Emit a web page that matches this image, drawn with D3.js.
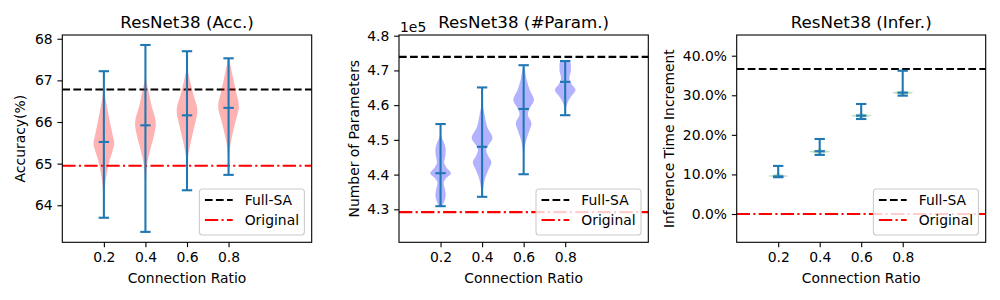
<!DOCTYPE html>
<html>
  <head>
    <meta charset="utf-8">
    <title></title>
    <script src="https://d3js.org/d3.v7.min.js" charset="utf-8"></script>
    <style>
      body { margin: 0; background: #fff; }
      text { font-family: "DejaVu Sans", sans-serif; fill: #000; }
    </style>
  </head>
  <body>
  <div id="chart"></div>
  <script>
    /* ------------------
      data
    ------------------ */

    var ratios = [0.2, 0.4, 0.6, 0.8];

    // accuracy (%)
    var accMax  = [67.22, 67.85, 67.70, 67.53];
    var accMin  = [63.70, 63.36, 64.36, 64.73];
    var accMean = [65.52, 65.92, 66.16, 66.34];
    var accFull = 66.78, accOrig = 64.95;
    // violin outline: [value, relative half width]
    var accViolins = [
      [[63.70,0],[64.24,0.05],[64.72,0.25],[65.08,0.55],[65.32,0.85],[65.49,1],[65.68,0.85],[66.04,0.55],[66.40,0.28],[66.69,0.08],[67.0,0.01],[67.22,0]],
      [[63.36,0],[64.20,0.01],[64.60,0.05],[64.96,0.15],[65.32,0.45],[65.68,0.83],[65.97,1],[66.40,0.58],[66.76,0.28],[67.07,0.05],[67.85,0]],
      [[64.36,0],[64.96,0.03],[65.20,0.12],[65.56,0.4],[65.92,0.74],[66.28,1],[66.64,0.63],[67.00,0.28],[67.29,0.05],[67.70,0]],
      [[64.73,0],[65.08,0.03],[65.32,0.1],[65.68,0.35],[66.04,0.7],[66.38,1],[66.76,0.68],[67.12,0.38],[67.48,0.08],[67.53,0.04]]
    ];

    // number of parameters
    var parMax  = [4.5455, 4.651, 4.715, 4.727];
    var parMin  = [4.309, 4.336, 4.401, 4.571];
    var parMean = [4.404, 4.480, 4.589, 4.667];
    var parFull = 4.739, parOrig = 4.292;
    var parViolins = [
      [[4.309,0.15],[4.326,0.4],[4.341,0.5],[4.361,0.4],[4.376,0.3],[4.390,0.55],[4.404,1],[4.419,0.6],[4.436,0.35],[4.453,0.45],[4.471,0.5],[4.491,0.35],[4.508,0.1],[4.528,0.02],[4.5455,0]],
      [[4.336,0.02],[4.361,0.1],[4.390,0.3],[4.413,0.6],[4.436,0.9],[4.453,0.6],[4.471,0.4],[4.485,0.6],[4.505,1],[4.537,0.5],[4.571,0.25],[4.606,0.05],[4.651,0]],
      [[4.401,0],[4.456,0.05],[4.494,0.2],[4.522,0.5],[4.548,0.75],[4.574,0.4],[4.592,0.6],[4.615,1],[4.643,0.6],[4.672,0.3],[4.710,0.05],[4.715,0]],
      [[4.571,0],[4.592,0.08],[4.609,0.25],[4.626,0.6],[4.644,1],[4.661,0.6],[4.678,0.4],[4.701,0.55],[4.718,0.55],[4.727,0.4]]
    ];

    // inference time increment
    var infMax  = [0.1215, 0.1896, 0.278, 0.362];
    var infMin  = [0.0929, 0.1493, 0.240, 0.299];
    var infMean = [0.095, 0.1586, 0.2485, 0.3066];
    var infFull = 0.3664, infOrig = 0.0;
    var infViolins = [
      [[0.0929,0.5],[0.0945,0.85],[0.096,1],[0.0985,0.55],[0.1015,0.15],[0.105,0.03],[0.1215,0]],
      [[0.1493,0],[0.151,0.08],[0.1545,0.55],[0.1576,1],[0.1605,0.55],[0.164,0.08],[0.171,0.01],[0.1896,0]],
      [[0.240,0],[0.242,0.08],[0.2455,0.55],[0.2485,1],[0.2515,0.55],[0.255,0.08],[0.263,0.01],[0.278,0]],
      [[0.299,0],[0.3005,0.08],[0.3035,0.55],[0.3066,1],[0.3095,0.55],[0.313,0.08],[0.323,0.01],[0.362,0]]
    ];

    /* ------------------
      layout
    ------------------ */

    var svg = d3.select('#chart').append('svg').attr('width', 1000).attr('height', 300);

    var TOP = 35, BOTTOM = 242.3;
    var blue = '#1f77b4';

    var panels = [
      { left: 62.3, right: 311.7, domain: [63.11, 68.09], ticks: [64, 65, 66, 67, 68], fmt: d3.format('d'),
        title: 'ResNet38 (Acc.)', ylabel: 'Accuracy(%)', ylabelX: 25, fill: 'red',
        max: accMax, min: accMin, mean: accMean, full: accFull, orig: accOrig, violins: accViolins },
      { left: 399, right: 648.3, domain: [4.205, 4.802], ticks: [4.3, 4.4, 4.5, 4.6, 4.7, 4.8], fmt: d3.format('.1f'),
        title: 'ResNet38 (#Param.)', ylabel: 'Number of Parameters', ylabelX: 358.5, fill: 'blue', offset: '1e5',
        max: parMax, min: parMin, mean: parMean, full: parFull, orig: parOrig, violins: parViolins },
      { left: 736.7, right: 985.7, domain: [-0.0715, 0.4523], ticks: [0, 0.1, 0.2, 0.3, 0.4], fmt: d3.format('.1%'),
        title: 'ResNet38 (Infer.)', ylabel: 'Inference Time Increment', ylabelX: 674, fill: '#2ca02c',
        max: infMax, min: infMin, mean: infMean, full: infFull, orig: infOrig, violins: infViolins }
    ];

    panels.forEach(function(p) {
      var x = d3.scaleLinear().domain([0, 1.2]).range([p.left, p.right]);
      var y = d3.scaleLinear().domain(p.domain).range([BOTTOM, TOP]);
      var g = svg.append('g');

      // reference lines
      g.append('line').attr('x1', p.left).attr('x2', p.right)
        .attr('y1', y(p.full)).attr('y2', y(p.full))
        .attr('stroke', '#000').attr('stroke-width', 2.08).attr('stroke-dasharray', '7.7,3.33');
      g.append('line').attr('x1', p.left).attr('x2', p.right)
        .attr('y1', y(p.orig)).attr('y2', y(p.orig))
        .attr('stroke', 'red').attr('stroke-width', 2.08).attr('stroke-dasharray', '13.3,3.33,2.08,3.33');

      // violins (width 0.1 in data units)
      p.violins.forEach(function(v, i) {
        var c = ratios[i];
        var area = d3.area()
          .y(function(d) { return y(d[0]); })
          .x0(function(d) { return x(c - d[1] * 0.05); })
          .x1(function(d) { return x(c + d[1] * 0.05); })
          .curve(d3.curveMonotoneY);
        g.append('path').attr('d', area(v)).attr('fill', p.fill).attr('fill-opacity', 0.3);
      });

      // whiskers, caps and means
      ratios.forEach(function(c, i) {
        g.append('line').attr('x1', x(c)).attr('x2', x(c))
          .attr('y1', y(p.min[i])).attr('y2', y(p.max[i]))
          .attr('stroke', blue).attr('stroke-width', 2.08);
        [p.min[i], p.max[i], p.mean[i]].forEach(function(val) {
          g.append('line').attr('x1', x(c - 0.025)).attr('x2', x(c + 0.025))
            .attr('y1', y(val)).attr('y2', y(val))
            .attr('stroke', blue).attr('stroke-width', 2.08);
        });
      });

      // axes
      var yAxis = d3.axisLeft(y).tickValues(p.ticks).tickFormat(p.fmt).tickSizeOuter(0).tickSize(4.86).tickPadding(4.86);
      var xAxis = d3.axisBottom(x).tickValues(ratios).tickFormat(d3.format('.1f')).tickSizeOuter(0).tickSize(4.86).tickPadding(4.86);
      var ya = g.append('g').attr('transform', 'translate(' + p.left + ',0)').call(yAxis);
      var xa = g.append('g').attr('transform', 'translate(0,' + BOTTOM + ')').call(xAxis);
      [ya, xa].forEach(function(a) {
        a.select('.domain').remove();
        a.selectAll('line').attr('stroke', '#000').attr('stroke-width', 1.1);
        a.selectAll('text').attr('font-size', 13.9).attr('fill', '#000').style('font-family', '"DejaVu Sans", sans-serif');
      });
      g.append('rect').attr('x', p.left).attr('y', TOP)
        .attr('width', p.right - p.left).attr('height', BOTTOM - TOP)
        .attr('fill', 'none').attr('stroke', '#000').attr('stroke-width', 1.1);

      // labels
      g.append('text').attr('x', (p.left + p.right) / 2).attr('y', 27.5)
        .attr('text-anchor', 'middle').attr('font-size', 16.7).text(p.title);
      g.append('text').attr('x', (p.left + p.right) / 2).attr('y', 283)
        .attr('text-anchor', 'middle').attr('font-size', 13.9).text('Connection Ratio');
      g.append('text').attr('transform', 'translate(' + p.ylabelX + ',' + ((TOP + BOTTOM) / 2) + ') rotate(-90)')
        .attr('text-anchor', 'middle').attr('font-size', 13.9).text(p.ylabel);
      if (p.offset) {
        g.append('text').attr('x', p.left + 1).attr('y', 31.5).attr('font-size', 13.9).text(p.offset);
      }

      // legend
      var bw = 105, bh = 46;
      var bx = p.right - 7.3 - bw, by = BOTTOM - 7.3 - bh;
      var lg = g.append('g');
      lg.append('rect').attr('x', bx).attr('y', by).attr('width', bw).attr('height', bh)
        .attr('rx', 3).attr('fill', '#fff').attr('fill-opacity', 0.8)
        .attr('stroke', '#ccc').attr('stroke-width', 1.1);
      var entries = [
        { label: 'Full-SA', color: '#000', dash: '7.7,3.33' },
        { label: 'Original', color: 'red', dash: '13.3,3.33,2.08,3.33' }
      ];
      entries.forEach(function(e, k) {
        var ly = by + 11 + k * 20;
        lg.append('line').attr('x1', bx + 5.5).attr('x2', bx + 33.3).attr('y1', ly).attr('y2', ly)
          .attr('stroke', e.color).attr('stroke-width', 2.08).attr('stroke-dasharray', e.dash);
        lg.append('text').attr('x', bx + 45.3).attr('y', ly + 5).attr('font-size', 13.9).text(e.label);
      });
    });
  </script>
</body>
</html>
